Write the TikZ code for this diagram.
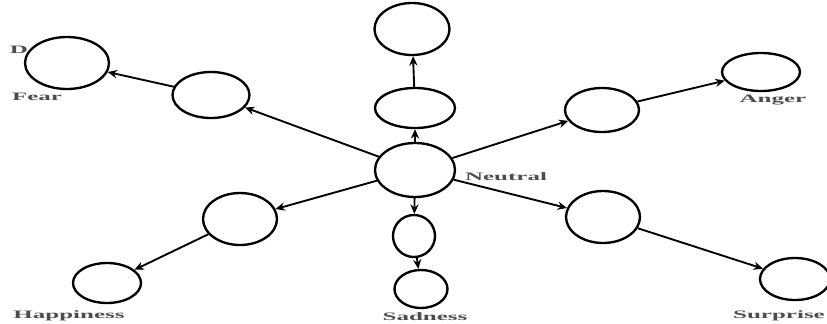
\documentclass[tikz,border=0pt]{standalone}
\usepackage{fontspec}
\usepackage{graphicx}
\newfontfamily\lblfont{Liberation Serif}
\newcommand{\emolabel}[1]{\scalebox{2.2}[1]{#1}}
\usetikzlibrary{shapes.geometric,arrows.meta}
\tikzset{
  state/.style={ellipse, draw, line width=2pt, fill=white, inner sep=0pt},
  emo/.style={font={\lblfont\fontsize{9.7}{11}\selectfont\bfseries}, text=black!70, inner sep=0pt},
  trans/.style={line width=1.6pt, -{Stealth[length=8pt,width=7pt]}}
}
\begin{document}
\begin{tikzpicture}[x=0.03cm, y=-0.03cm]
  \useasboundingbox (0,0) rectangle (827,323);
  % hidden label
  \node[emo] (dlab) at (19,50) {\emolabel{D}};
  % states
  \foreach \name/\x/\y/\w/\h in {neutral/415/170/80/54, up1/415/108/80/40, up2/412/29/75/52,
      fear1/211/95/77/46, fear/67/63/84/52, anger1/602/110/74/44, anger/761/72/78/38,
      hap1/240/219/74/52, hap/107/283/68/40, sad1/414/236/42/42, sad/421/289/53/38,
      sur1/603/217/74/52, sur/795/279/70/42} {
    \node[state, minimum width=\w*0.03cm, minimum height=\h*0.03cm] (\name) at (\x,\y) {};
  }
  % labels
  \node[emo] (lneutral) at (506,177) {\emolabel{Neutral}};
  \node[emo] (lfear) at (37,97) {\emolabel{Fear}};
  \node[emo] (langer) at (773,100) {\emolabel{Anger}};
  \node[emo] (lhap) at (69,316) {\emolabel{Happiness}};
  \node[emo] (lsad) at (425,317) {\emolabel{Sadness}};
  \node[emo] (lsur) at (779,316) {\emolabel{Surprise}};
  % transitions
  \foreach \a/\b in {neutral/up1, up1/up2, neutral/fear1, fear1/fear, neutral/anger1, anger1/anger,
      neutral/hap1, hap1/hap, neutral/sad1, sad1/sad, neutral/sur1, sur1/sur} {
    \draw[trans] (\a) -- (\b);
  }
\end{tikzpicture}
\end{document}
